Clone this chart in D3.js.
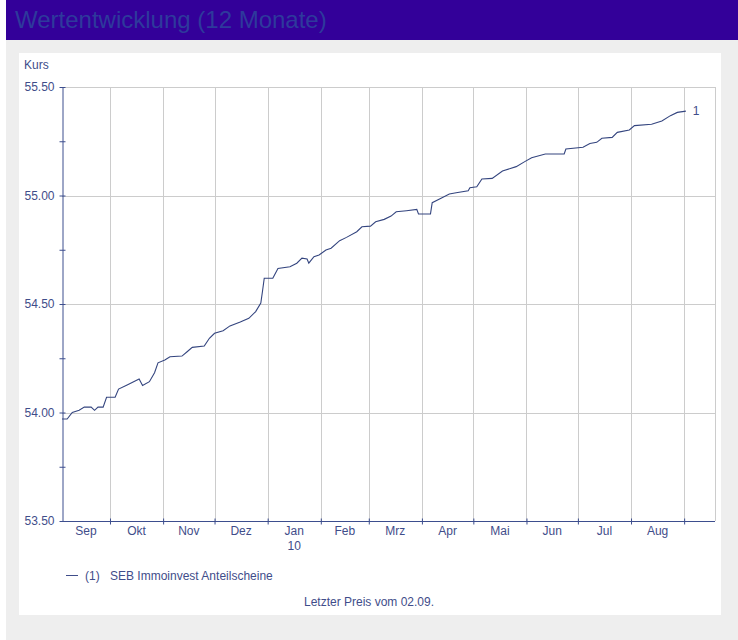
<!DOCTYPE html>
<html>
<head>
<meta charset="utf-8">
<script src="https://cdn.jsdelivr.net/npm/d3@7"></script>
<style>
  body { margin: 0; background: #fff; }
  svg text { font-family: "Liberation Sans", Arial, sans-serif; }
</style>
</head>
<body>
<svg id="chart"></svg>
<script>
// price series (SEB Immoinvest, 12 months)
const dates = [
  '2009-09-03', '2009-09-06', '2009-09-09', '2009-09-13', '2009-09-16', '2009-09-20', '2009-09-22',
  '2009-09-24', '2009-09-27', '2009-09-29', '2009-10-04', '2009-10-06', '2009-10-11', '2009-10-18',
  '2009-10-20', '2009-10-24', '2009-10-27', '2009-10-29', '2009-11-02', '2009-11-05', '2009-11-12',
  '2009-11-15', '2009-11-18', '2009-11-25', '2009-11-28', '2009-12-01', '2009-12-06', '2009-12-10',
  '2009-12-16', '2009-12-21', '2009-12-25', '2009-12-28', '2009-12-29', '2009-12-30', '2010-01-04',
  '2010-01-07', '2010-01-14', '2010-01-18', '2010-01-21', '2010-01-24', '2010-01-25', '2010-01-28',
  '2010-01-31', '2010-02-04', '2010-02-07', '2010-02-12', '2010-02-16', '2010-02-22', '2010-02-25',
  '2010-03-02', '2010-03-05', '2010-03-10', '2010-03-14', '2010-03-17', '2010-03-23', '2010-03-29',
  '2010-03-30', '2010-04-06', '2010-04-07', '2010-04-11', '2010-04-17', '2010-04-21', '2010-04-28',
  '2010-04-29', '2010-05-03', '2010-05-06', '2010-05-12', '2010-05-18', '2010-05-26', '2010-05-31',
  '2010-06-04', '2010-06-12', '2010-06-23', '2010-06-24', '2010-07-04', '2010-07-08', '2010-07-12',
  '2010-07-15', '2010-07-21', '2010-07-24', '2010-07-31', '2010-08-03', '2010-08-13', '2010-08-19',
  '2010-08-24', '2010-08-28', '2010-09-02'
];
const prices = [
  53.97, 53.97, 54.00, 54.01, 54.025, 54.025, 54.01,
  54.025, 54.025, 54.07, 54.07, 54.108, 54.127, 54.154,
  54.124, 54.142, 54.183, 54.229, 54.242, 54.257, 54.26,
  54.28, 54.30, 54.306, 54.342, 54.365, 54.377, 54.399,
  54.417, 54.434, 54.465, 54.504, 54.56, 54.619, 54.619,
  54.664, 54.672, 54.688, 54.711, 54.707, 54.688, 54.718,
  54.726, 54.749, 54.757, 54.792, 54.807, 54.833, 54.856,
  54.859, 54.879, 54.89, 54.905, 54.925, 54.93, 54.936,
  54.915, 54.915, 54.967, 54.983, 55.007, 55.013, 55.022,
  55.036, 55.04, 55.076, 55.079, 55.113, 55.133, 55.156,
  55.174, 55.191, 55.191, 55.214, 55.222, 55.24, 55.245,
  55.264, 55.268, 55.291, 55.302, 55.322, 55.328, 55.343,
  55.368, 55.383, 55.389
];
const monthStarts = ['2009-10-01', '2009-11-01', '2009-12-01', '2010-01-01', '2010-02-01', '2010-03-01',
  '2010-04-01', '2010-05-01', '2010-06-01', '2010-07-01', '2010-08-01', '2010-09-01'];
const monthLabels = ['Sep', 'Okt', 'Nov', 'Dez', 'Jan', 'Feb', 'Mrz', 'Apr', 'Mai', 'Jun', 'Jul', 'Aug'];
const yTicks = [53.5, 53.75, 54.0, 54.25, 54.5, 54.75, 55.0, 55.25, 55.5];

const width = 738;
const height = 640;
const plot = { left: 62, right: 715, top: 87, bottom: 521 };
const fontSize = 12;
const textColor = '#3f4d8a';
const axisColor = '#3d4e8e';
const gridColor = '#cccccc';

const parse = d3.timeParse('%Y-%m-%d');
const values = dates.map((d, i) => ({ date: parse(d), price: prices[i] }));
const months = monthStarts.map(parse);

const svg = d3.select('#chart')
  .attr('width', width)
  .attr('height', height);

// frame: title bar, grey background, white panel
svg.append('rect').attr('x', 6).attr('y', 40).attr('width', width - 6).attr('height', height - 40).attr('fill', '#eeeeee');
svg.append('rect').attr('x', 6).attr('y', 0).attr('width', width - 6).attr('height', 40).attr('fill', '#330099');
svg.append('text')
  .attr('x', 15).attr('y', 28)
  .attr('font-size', 24)
  .attr('fill', '#2e3a9c')
  .text('Wertentwicklung (12 Monate)');
svg.append('rect').attr('x', 19).attr('y', 53).attr('width', 702).attr('height', 562).attr('fill', '#ffffff');

const x = d3.scaleTime()
  .domain([parse('2009-09-03'), parse('2010-09-19')])
  .range([plot.left, plot.right]);

const y = d3.scaleLinear()
  .domain([53.5, 55.5])
  .range([plot.bottom, plot.top]);

// grid
const grid = svg.append('g').attr('stroke', gridColor).attr('stroke-width', 1);
grid.selectAll('line.v')
  .data(months.concat([x.domain()[1]]))
  .enter()
  .append('line')
  .attr('x1', (d) => Math.round(x(d)) + 0.5)
  .attr('x2', (d) => Math.round(x(d)) + 0.5)
  .attr('y1', plot.top)
  .attr('y2', plot.bottom);
grid.selectAll('line.h')
  .data([54.0, 54.5, 55.0, 55.5])
  .enter()
  .append('line')
  .attr('x1', plot.left)
  .attr('x2', plot.right)
  .attr('y1', (d) => Math.round(y(d)) + 0.5)
  .attr('y2', (d) => Math.round(y(d)) + 0.5);

// y axis
const yAxis = d3.axisLeft(y)
  .tickValues(yTicks)
  .tickSize(3)
  .tickPadding(5)
  .tickFormat((d) => (d * 100) % 50 === 0 ? d3.format('.2f')(d) : '');
const gy = svg.append('g')
  .attr('transform', 'translate(' + (plot.left + 0.5) + ',0)')
  .call(yAxis);
gy.selectAll('.tick line').attr('x2', -3).attr('x1', 3);
gy.selectAll('.tick line, .domain').attr('stroke', axisColor);
gy.select('.domain').attr('d', 'M0.5,' + plot.top + 'V' + plot.bottom);
gy.selectAll('text')
  .attr('fill', textColor)
  .attr('font-size', fontSize)
  .style('font-family', '"Liberation Sans", Arial, sans-serif');

svg.append('text')
  .attr('x', 24).attr('y', 69)
  .attr('font-size', fontSize)
  .attr('fill', textColor)
  .text('Kurs');

// x axis
const xAxis = d3.axisBottom(x)
  .tickValues(months)
  .tickSize(3)
  .tickFormat('');
const gx = svg.append('g')
  .attr('transform', 'translate(0,' + (plot.bottom + 0.5) + ')')
  .call(xAxis);
gx.selectAll('.tick line').attr('y1', -3).attr('y2', 3).attr('stroke', axisColor);
gx.select('.domain').attr('stroke', axisColor).attr('d', 'M' + plot.left + ',0H' + plot.right);

const bounds = [x.domain()[0]].concat(months);
svg.append('g')
  .selectAll('text')
  .data(monthLabels)
  .enter()
  .append('text')
  .attr('x', (d, i) => (x(bounds[i]) + x(bounds[i + 1])) / 2)
  .attr('y', 535)
  .attr('text-anchor', 'middle')
  .attr('font-size', fontSize)
  .attr('fill', textColor)
  .text((d) => d);
svg.append('text')
  .attr('x', (x(months[3]) + x(months[4])) / 2)
  .attr('y', 550)
  .attr('text-anchor', 'middle')
  .attr('font-size', fontSize)
  .attr('fill', textColor)
  .text('10');

// price line
const line = d3.line()
  .x((d) => x(d.date))
  .y((d) => y(d.price));
svg.append('path')
  .datum(values)
  .attr('fill', 'none')
  .attr('stroke', '#34457f')
  .attr('stroke-width', 1.1)
  .attr('d', line);

const last = values[values.length - 1];
svg.append('text')
  .attr('x', x(last.date) + 7)
  .attr('y', y(last.price) + 4)
  .attr('font-size', fontSize)
  .attr('fill', textColor)
  .text('1');

// legend + footer
svg.append('line')
  .attr('x1', 66).attr('x2', 78)
  .attr('y1', 575.5).attr('y2', 575.5)
  .attr('stroke', textColor);
svg.append('text')
  .attr('x', 85).attr('y', 580)
  .attr('font-size', fontSize)
  .attr('fill', textColor)
  .text('(1)');
svg.append('text')
  .attr('x', 110).attr('y', 580)
  .attr('font-size', fontSize)
  .attr('fill', textColor)
  .text('SEB Immoinvest Anteilscheine');
svg.append('text')
  .attr('x', 369).attr('y', 606)
  .attr('text-anchor', 'middle')
  .attr('font-size', fontSize)
  .attr('fill', textColor)
  .text('Letzter Preis vom 02.09.');
</script>
</body>
</html>
